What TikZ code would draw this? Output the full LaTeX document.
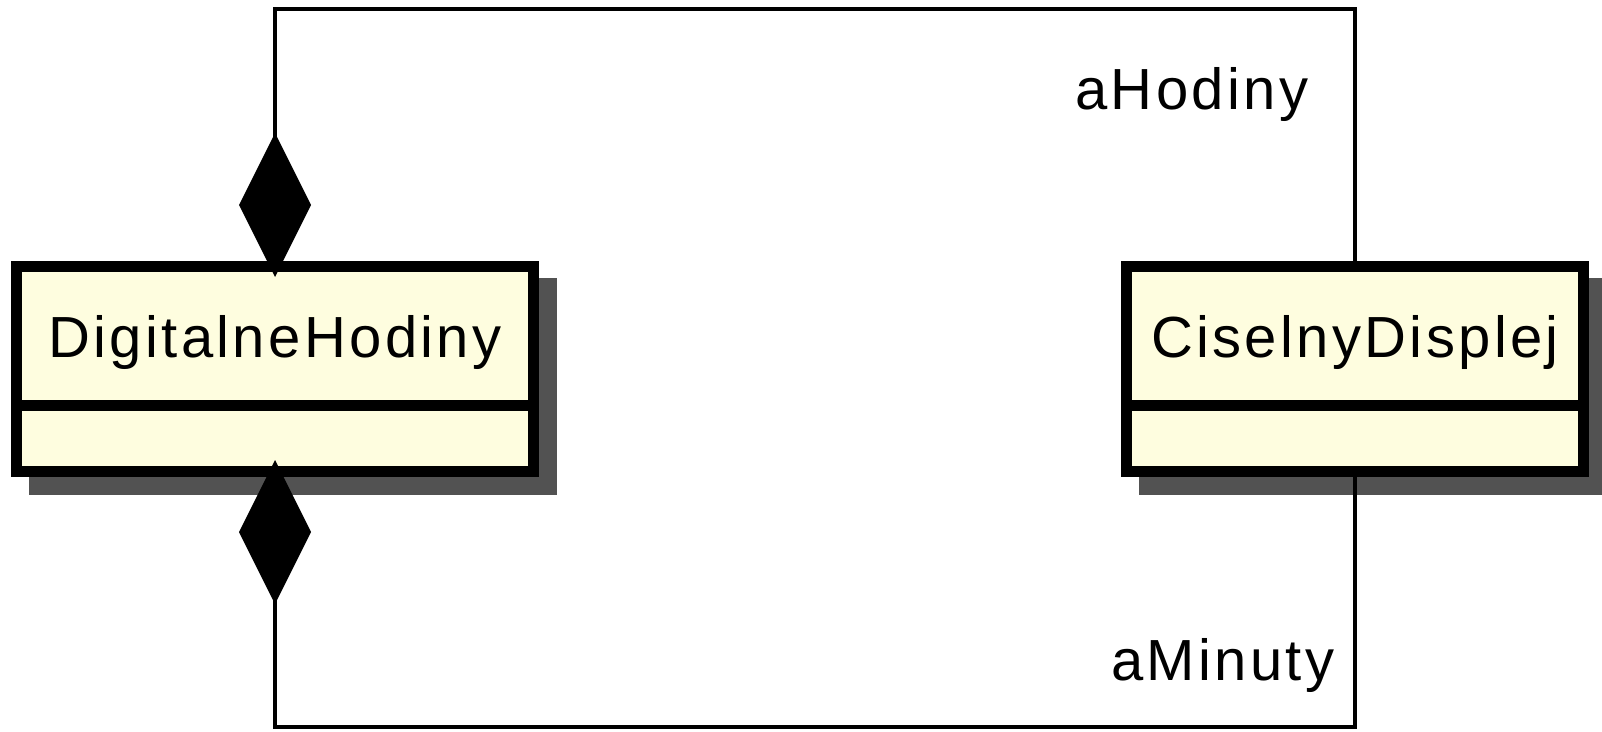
\documentclass[tikz,border=0pt]{standalone}
\usepackage{fontspec}
\setmainfont{Liberation Sans}[LetterSpace=5.8]
\usetikzlibrary{arrows.meta}

\definecolor{classfill}{HTML}{FEFDDF}
\definecolor{shadowgray}{HTML}{525252}

\tikzset{
  classbox/.style={draw=black, fill=classfill, line width=11pt, inner sep=0pt,
    minimum height=205pt},
  classname/.style={anchor=base, inner sep=0pt, font=\fontsize{58}{60}\selectfont},
  rolename/.style={anchor=base west, inner sep=0pt, font=\fontsize{58}{60}\selectfont},
  divider/.style={draw=black, line width=11pt},
  classshadow/.style={fill=shadowgray},
  composition/.style={draw=black, line width=4.5pt,
    {Diamond[length=144pt, width=72pt, line width=0pt]}-},
}

\begin{document}
\begin{tikzpicture}[x=1pt, y=-1pt]
  \useasboundingbox (0,0) rectangle (1602,731);

  % class boxes (anchors sit on the outer edge of the thick border)
  \node[classbox, minimum width=517pt] (dh) at (275,369) {};
  \node[classbox, minimum width=457pt] (cd) at (1355,369) {};

  % drop shadows along the right and bottom edges
  \fill[classshadow] ([shift={(0,17)}]dh.north east) rectangle ([shift={(18,18)}]dh.south east);
  \fill[classshadow] ([shift={(18,0)}]dh.south west) rectangle ([shift={(18,18)}]dh.south east);
  \fill[classshadow] ([shift={(0,17)}]cd.north east) rectangle ([shift={(18,18)}]cd.south east);
  \fill[classshadow] ([shift={(18,0)}]cd.south west) rectangle ([shift={(18,18)}]cd.south east);

  % compartment dividers
  \draw[divider] ([yshift=-144.5pt]dh.north west) -- ([yshift=-144.5pt]dh.north east);
  \draw[divider] ([yshift=-144.5pt]cd.north west) -- ([yshift=-144.5pt]cd.north east);

  % class names
  \node[classname] (dhname) at (275,357) {DigitalneHodiny};
  \node[classname] (cdname) at (1355,357) {CiselnyDisplej};

  % composition associations
  \draw[composition, shorten <=-16pt] (dh.north) -- ++(0,-252) -| (cd.north);
  \draw[composition, shorten <=-17pt] (dh.south) -- ++(0,250) -| (cd.south);

  % role names
  \node[rolename] (rhod) at (1075,109) {aHodiny};
  \node[rolename] (rmin) at (1111,680) {aMinuty};
\end{tikzpicture}
\end{document}
